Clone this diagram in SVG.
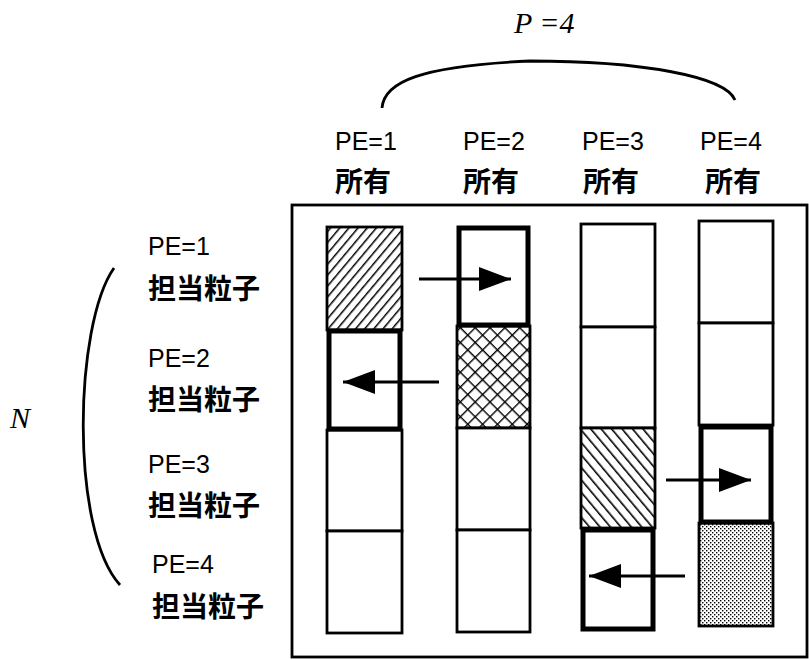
<svg xmlns="http://www.w3.org/2000/svg" width="809" height="660" viewBox="0 0 809 660">
<style>
.cell{fill:#fff;stroke:#000;stroke-width:2.8}
.thick{fill:#fff;stroke:#000;stroke-width:5}
.pe{font-family:"Liberation Sans",Arial,sans-serif;font-size:25px;fill:#000}
.jp{font-family:"Noto Sans CJK JP","Noto Sans CJK SC",sans-serif;font-size:28px;font-weight:bold;fill:#000}
.it{font-family:"Liberation Serif","Times New Roman",serif;font-style:italic;font-size:30px;fill:#000}
.conn{stroke:#000;stroke-width:2.8;fill:none}
.brace{stroke:#000;stroke-width:2.8;fill:none}
</style>
<defs>
<pattern id="hatchR" patternUnits="userSpaceOnUse" width="7" height="7" patternTransform="rotate(40)">
<rect width="7" height="7" fill="#fff"/>
<line x1="0" y1="0" x2="0" y2="7" stroke="#000" stroke-width="3"/>
</pattern>
<pattern id="hatchL" patternUnits="userSpaceOnUse" width="8" height="8" patternTransform="rotate(-40)">
<rect width="8" height="8" fill="#fff"/>
<line x1="0" y1="0" x2="0" y2="8" stroke="#000" stroke-width="3.2"/>
</pattern>
<pattern id="cross" patternUnits="userSpaceOnUse" width="10.5" height="10.5" patternTransform="rotate(45)">
<rect width="10.5" height="10.5" fill="#fff"/>
<line x1="0" y1="0" x2="0" y2="10.5" stroke="#000" stroke-width="2.8"/>
<line x1="0" y1="0" x2="10.5" y2="0" stroke="#000" stroke-width="2.8"/>
</pattern>
<pattern id="dots" patternUnits="userSpaceOnUse" width="4" height="4">
<rect width="4" height="4" fill="#fff"/>
<rect x="0" y="0" width="1.4" height="1.4" fill="#000"/>
<rect x="2" y="2" width="1.4" height="1.4" fill="#000"/>
</pattern>
<marker id="ah" viewBox="0 0 32 24" refX="32" refY="12" markerUnits="userSpaceOnUse" markerWidth="32" markerHeight="24" orient="auto">
<path d="M0,0 L32,12 L0,24 Z" fill="#000"/>
</marker>
</defs>

<g id="frame">
<rect x="292" y="205" width="515" height="452" fill="none" stroke="#000" stroke-width="2.8"/>
</g>

<g id="top-label">
<text class="it" x="514" y="33">P =4</text>
<path class="brace" d="M382,108 C384,82 420,66 530,61 C640,61 725,76 735,100"/>
</g>

<g id="left-label">
<text class="it" x="10" y="428">N</text>
<path class="brace" d="M114,268 C74,325 70,530 120,585"/>
</g>

<g id="headers">
<text class="pe" x="335" y="150">PE=1</text>
<text class="jp" x="335" y="192">所有</text>
<text class="pe" x="463" y="150">PE=2</text>
<text class="jp" x="463" y="192">所有</text>
<text class="pe" x="582" y="150">PE=3</text>
<text class="jp" x="583" y="192">所有</text>
<text class="pe" x="700" y="150">PE=4</text>
<text class="jp" x="705" y="192">所有</text>
</g>

<g id="row-labels">
<text class="pe" x="148" y="255">PE=1</text>
<text class="jp" x="148" y="299">担当粒子</text>
<text class="pe" x="148" y="367">PE=2</text>
<text class="jp" x="148" y="410">担当粒子</text>
<text class="pe" x="148" y="473">PE=3</text>
<text class="jp" x="148" y="516">担当粒子</text>
<text class="pe" x="152" y="573">PE=4</text>
<text class="jp" x="152" y="617">担当粒子</text>
</g>

<g id="col1">
<rect class="cell" x="327" y="227" width="75" height="103" style="fill:url(#hatchR)"/>
<rect class="cell" x="327" y="430" width="75" height="101"/>
<rect class="cell" x="327" y="531" width="75" height="102"/>
<rect class="thick" x="329" y="331" width="71" height="98"/>
</g>

<g id="col2">
<rect class="cell" x="457" y="326" width="73" height="102" style="fill:url(#cross)"/>
<rect class="cell" x="457" y="428" width="73" height="102"/>
<rect class="cell" x="457" y="530" width="73" height="102"/>
<rect class="thick" x="459" y="228" width="69" height="97"/>
</g>

<g id="col3">
<rect class="cell" x="581" y="224" width="74" height="103"/>
<rect class="cell" x="581" y="327" width="74" height="101"/>
<rect class="cell" x="581" y="428" width="74" height="100" style="fill:url(#hatchL)"/>
<rect class="thick" x="583" y="530" width="70" height="99"/>
</g>

<g id="col4">
<rect class="cell" x="699" y="221" width="74" height="102"/>
<rect class="cell" x="699" y="323" width="74" height="102"/>
<rect class="cell" x="699" y="523" width="74" height="103" style="fill:url(#dots)"/>
<rect class="thick" x="701" y="427" width="70" height="95"/>
</g>

<g id="connectors">
<line class="conn" x1="419" y1="279" x2="511" y2="279" marker-end="url(#ah)"/>
<line class="conn" x1="439" y1="382" x2="343" y2="382" marker-end="url(#ah)"/>
<line class="conn" x1="666" y1="480" x2="751" y2="480" marker-end="url(#ah)"/>
<line class="conn" x1="685" y1="576" x2="589" y2="576" marker-end="url(#ah)"/>
</g>
</svg>
